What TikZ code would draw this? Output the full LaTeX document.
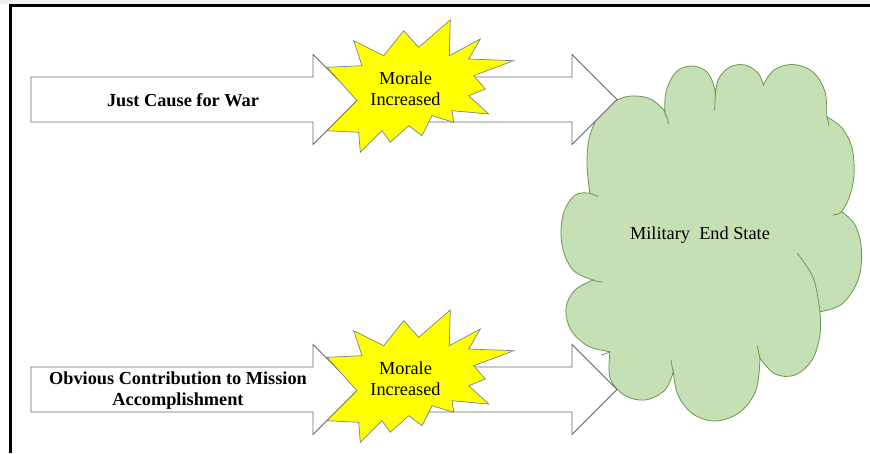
\documentclass[tikz,border=0pt]{standalone}
\usepackage{fontspec}
\setmainfont{Liberation Serif}
\newfontfamily\labelface{Liberation Serif}

\definecolor{arrowline}{RGB}{105,105,105}
\definecolor{burstfill}{RGB}{255,255,0}
\definecolor{burstline}{RGB}{120,130,150}
\definecolor{cloudfill}{RGB}{197,224,180}
\definecolor{cloudline}{RGB}{110,148,82}

\tikzset{
  blockarrow/.style={draw=arrowline, fill=white, line width=0.8pt, line join=miter},
  burst/.style={draw=burstline, fill=burstfill, line width=0.7pt, line join=miter},
  cloudshape/.style={draw=cloudline, fill=cloudfill, line width=0.8pt},
  cloudstub/.style={draw=cloudline, line width=0.8pt},
  lobe/.style={smooth, tension=0.6},
  boldlabel/.style={font=\labelface\bfseries\fontsize{18.3}{21.5}\selectfont, align=center, inner sep=0pt},
  plainlabel/.style={font=\labelface\fontsize{18.3}{21.5}\selectfont, align=center, inner sep=0pt},
  frameline/.style={draw=black, line width=2.6pt, line join=miter},
  % explosion shape behind the "Morale Increased" labels
  pics/moraleburst/.style={code={
    \draw[burst] (450.3,20) -- (449.3,55.7) -- (480.3,39) -- (468.7,59) -- (513.7,60.7)
      -- (473.7,75.7) -- (485.3,89) -- (468.7,95.7) -- (488.7,114) -- (452,110.7)
      -- (453.7,122.3) -- (432,115.7) -- (422,135.7) -- (408.7,125.7) -- (390.3,142.3)
      -- (382,130.7) -- (360.3,152.3) -- (358.7,132.3) -- (327,130.7) -- (357,100.7)
      -- (327,67.3) -- (362,65.7) -- (353.7,40.7) -- (383.7,55.7) -- (403.7,30.7)
      -- (418.7,47.3) -- cycle;
  }},
  % a pair of block arrows on one row
  pics/arrowrow/.style={code={
    \draw[blockarrow] (31,77) -- (313,77) -- (313,54.5) -- (358,99.5) -- (313,144.5)
      -- (313,122) -- (31,122) -- cycle;
    \draw[blockarrow] (420,77) -- (572,77) -- (572,54.5) -- (617,99.5) -- (572,144.5)
      -- (572,122) -- (420,122) -- cycle;
  }}
}

\begin{document}
\begin{tikzpicture}[x=1pt, y=-1pt]
  \useasboundingbox (0,0) rectangle (870,453);

  % page frame
  \fill[black!6] (0,0) rectangle (870,4.2);
  \draw[frameline] (870,5.5) -- (10.3,5.5) -- (10.3,453);

  % cloud, one smooth lobe after another
  \filldraw[cloudshape]
    plot[lobe] coordinates {(590,193.3) (587,165) (590,135) (603,110) (625,97) (648,98) (662,108) (665,113.3)}
    -- plot[lobe] coordinates {(665,113.3) (666,92) (676,72) (692,66) (707,72) (714.5,88) (715,101.7)}
    -- plot[lobe] coordinates {(715,101.7) (718,80) (730,67) (745,65) (758,73) (763.3,85)}
    -- plot[lobe] coordinates {(763.3,85) (774,70) (793,64.5) (813,72) (825,92) (826.7,116.7)}
    -- plot[lobe] coordinates {(826.7,116.7) (842,128) (852,148) (854,175) (849,198) (841.7,211.7)}
    -- plot[lobe] coordinates {(841.7,211.7) (855,225) (861.5,250) (858,280) (842,304) (820,311.7)}
    -- plot[lobe] coordinates {(820,311.7) (820,335) (812,360) (795,375) (775,374) (760,358.3)}
    -- plot[lobe] coordinates {(760,358.3) (756,390) (740,412) (716,421) (693,414) (678,395) (673.3,371.7)}
    -- plot[lobe] coordinates {(673.3,371.7) (665,390) (645,400) (624,395) (610,378) (610,351.7)}
    -- plot[lobe] coordinates {(610,351.7) (588,346) (571,330) (566,308) (575,290) (593.3,280)}
    -- plot[lobe] coordinates {(593.3,280) (573,270) (562,245) (563,215) (575,195) (590,193.3)}
    -- cycle;

  % inner arcs of the cloud
  \draw[cloudstub] plot[lobe] coordinates {(820,311.7) (813.3,278) (797,253)};
  \draw[cloudstub] plot[lobe] coordinates {(665,113.3) (667.5,118.5) (668.5,124)};
  \draw[cloudstub] plot[lobe] coordinates {(715,101.7) (715,106) (714.2,110)};
  \draw[cloudstub] plot[lobe] coordinates {(826.7,116.7) (828,121) (829,126)};
  \draw[cloudstub] plot[lobe] coordinates {(841.7,211.7) (838,214) (833,215)};
  \draw[cloudstub] plot[lobe] coordinates {(760,358.3) (758.5,352) (757.5,346)};
  \draw[cloudstub] plot[lobe] coordinates {(673.3,371.7) (672,366) (671,360)};
  \draw[cloudstub] plot[lobe] coordinates {(610,351.7) (605.5,353.8) (601,355)};
  \draw[cloudstub] plot[lobe] coordinates {(593.3,280) (598,281.5) (603,282)};
  \draw[cloudstub] plot[lobe] coordinates {(590,193.3) (594,194.8) (598,196.5)};

  % block arrows and explosions
  \pic (rowtop) at (0,0) {arrowrow};
  \pic (bursttop) at (0,0) {moraleburst};
  \pic (rowbottom) at (0,290) {arrowrow};
  \pic (burstbottom) at (0,290) {moraleburst};

  % labels
  \node[boldlabel] (cause) at (183,100) {Just Cause for War};
  \node[boldlabel] (contrib) at (178,390.5) {Obvious Contribution to Mission\\Accomplishment};
  \node[plainlabel] (moraletop) at (405.5,88.5) {Morale\\Increased};
  \node[plainlabel] (moralebottom) at (405.5,378.5) {Morale\\Increased};
  \node[plainlabel] (endstate) at (700,235) {Military~ End State};
\end{tikzpicture}
\end{document}
